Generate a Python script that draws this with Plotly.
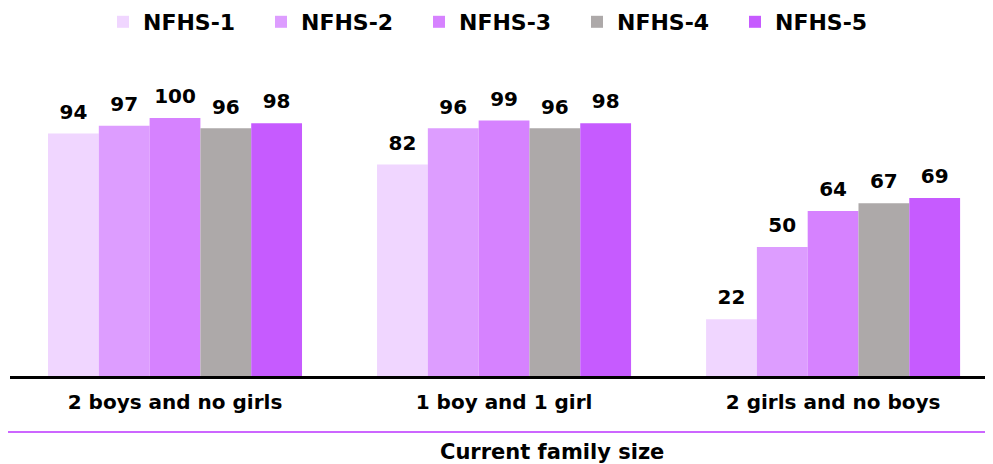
import plotly.graph_objects as go

categories = ["2 boys and no girls", "1 boy and 1 girl", "2 girls and no boys"]
series_names = ["NFHS-1", "NFHS-2", "NFHS-3", "NFHS-4", "NFHS-5"]
nfhs1 = [94, 82, 22]
nfhs2 = [97, 96, 50]
nfhs3 = [100, 99, 64]
nfhs4 = [96, 96, 67]
nfhs5 = [98, 98, 69]
series_values = [nfhs1, nfhs2, nfhs3, nfhs4, nfhs5]
colors = ["#F0D6FF", "#DD9DFF", "#D682FF", "#ADA9A9", "#C65BFF"]
x_title = "Current family size"

FONT = "DejaVu Sans"

fig = go.Figure()
for name, vals, col in zip(series_names, series_values, colors):
    fig.add_trace(go.Bar(
        name=name, x=categories, y=vals,
        marker=dict(color=col, line=dict(width=0)),
        offsetgroup=name, alignmentgroup="g",
    ))
for name, vals in zip(series_names, series_values):
    fig.add_trace(go.Scatter(
        x=categories, y=vals, mode="markers+text",
        text=[str(v) for v in vals], textposition="top center",
        textfont=dict(family=FONT, size=20, color="#000000", weight="bold"),
        marker=dict(size=14, opacity=0),
        offsetgroup=name, alignmentgroup="g",
        showlegend=False, hoverinfo="skip", cliponaxis=False,
    ))

# page body has an 8px margin; compensate
W, H = 985, 456
ml, mr, mt, mb = 2, 0, 52, 88
plot_h = H - mt - mb

fig.update_layout(
    width=W, height=H,
    margin=dict(l=ml, r=mr, t=mt, b=mb, autoexpand=False),
    paper_bgcolor="white", plot_bgcolor="white",
    barmode="group", bargap=0.228, bargroupgap=0,
    scattermode="group", scattergap=0.228,
    font=dict(family=FONT, size=19, color="#000000"),
    legend=dict(
        orientation="h", x=(103 - 10) / 983, xanchor="left",
        yref="container", y=1 - (22 - 8) / H, yanchor="middle",
        font=dict(family=FONT, size=22, color="#000000", weight="bold"),
        itemwidth=30, traceorder="normal",
        entrywidth=113, entrywidthmode="pixels",
    ),
    showlegend=True,
    xaxis=dict(
        showline=True, linecolor="#000000", linewidth=3,
        ticks="outside", ticklen=6, tickcolor="rgba(0,0,0,0)",
        tickfont=dict(family=FONT, size=20, color="#000000", weight="bold"),
        range=[-0.5015, 2.486], showgrid=False, zeroline=False,
    ),
    yaxis=dict(
        visible=False, range=[0, plot_h / 2.58], showgrid=False, zeroline=False,
    ),
    shapes=[dict(
        type="line", xref="paper", yref="paper",
        x0=-0.005, x1=1.0, y0=(376 - 432) / plot_h, y1=(376 - 432) / plot_h,
        line=dict(color="#CC66FF", width=2),
    )],
    annotations=[dict(
        text=x_title, xref="paper", yref="paper",
        x=(552 - 10) / 983, y=(376 - 452) / plot_h,
        xanchor="center", yanchor="middle", showarrow=False,
        font=dict(family=FONT, size=21, color="#000000", weight="bold"),
    )],
)

fig.write_html("out.html")
